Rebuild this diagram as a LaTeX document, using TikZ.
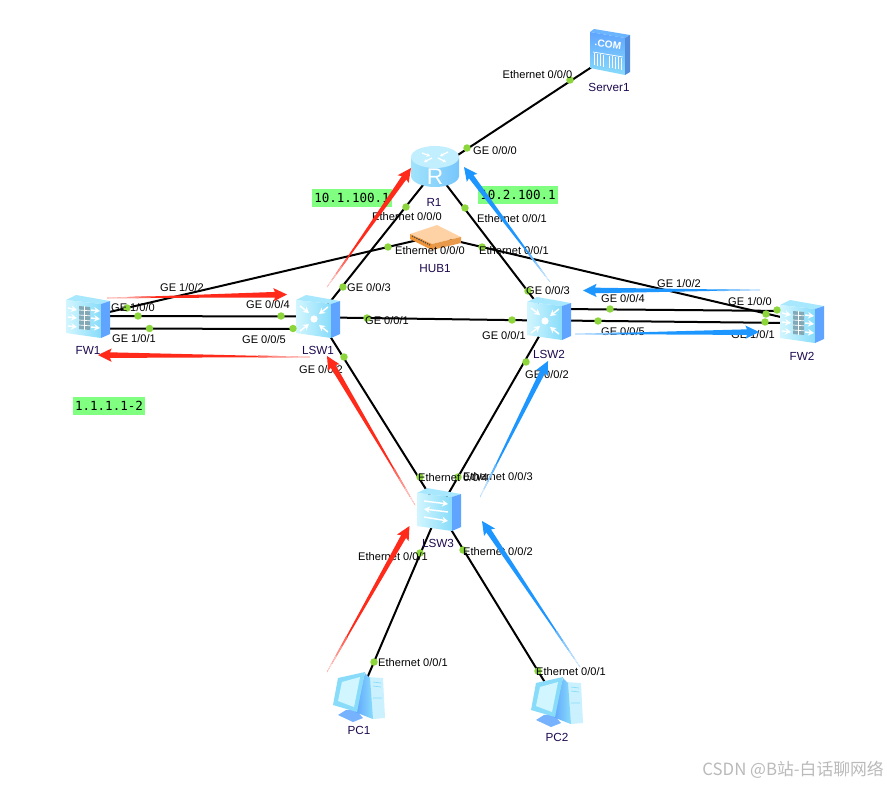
\documentclass[tikz,border=0pt]{standalone}
\usepackage{fontspec}
\setmainfont{Liberation Sans}
\newfontfamily\cjkfont{Noto Sans CJK SC}
\newfontfamily\monofont{DejaVu Sans Mono}
\usetikzlibrary{calc,arrows.meta}
\definecolor{flowred}{HTML}{FF2A1A}
\definecolor{flowblue}{HTML}{1E96FF}
\definecolor{dotgreen}{HTML}{8CD63C}
\definecolor{tagGreen}{HTML}{80FF80}
\definecolor{devname}{HTML}{1E0A50}
\definecolor{icoFrontA}{HTML}{D2F6FF}
\definecolor{icoFrontB}{HTML}{88DCFA}
\definecolor{icoTop}{HTML}{A8E8FF}
\definecolor{icoSide}{HTML}{5FA4FF}
\tikzset{
  link/.style={draw=black,line width=1.5pt},
  portdot/.style={circle,fill=dotgreen,inner sep=0pt,minimum size=5.6pt},
  portlab/.style={font=\fontsize{8.3pt}{9pt}\selectfont,text=black,inner sep=0pt},
  devlab/.style={font=\fontsize{8.8pt}{10pt}\selectfont,text=devname,inner sep=0pt},
  taglab/.style={fill=tagGreen,font=\fontsize{9.4pt}{10pt}\monofont,inner sep=0pt,minimum height=13.5pt},
  wht/.style={draw=white,line width=1.1pt,-{Stealth[length=4.5pt,width=5pt]}},
  boxicon/.pic={
    \path[fill=icoTop] (-22,-17)--(-12,-22)--(22,-16)--(13,-13)--cycle;
    \path[left color=icoFrontA,right color=icoFrontB] (-22,-17)--(13,-13)--(13,21)--(-22,16)--cycle;
    \path[fill=icoSide] (13,-13)--(22,-16)--(22,17)--(13,21)--cycle;
  },
  l3icon/.pic={
    \pic {boxicon};
    \fill[white] (-4,2) circle[radius=3.6];
    \draw[wht] (-18,-11)--(-9,-4);
    \draw[wht] (10,-10)--(1,-3);
    \draw[wht] (-18,14)--(-9,7);
    \draw[wht] (10,15)--(1,8);
  },
  l2icon/.pic={
    \pic {boxicon};
    \draw[wht] (-15,-9)--(9,-6);
    \draw[wht] (9,2)--(-15,-1);
    \draw[wht] (-15,7)--(9,11);
  },
  fwicon/.pic={
    \pic {boxicon};
    \fill[gray!55!icoFrontB] (-9,-11)--(2,-10)--(2,13)--(-9,12)--cycle;
    \foreach \yy in {-7,-2,3,8}{\draw[white,line width=.5pt] (-9,\yy)--(2,\yy+.8);}
    \draw[white,line width=.5pt] (-3.5,-11)--(-3.5,13);
    \draw[wht] (-20,-9)--(-11,-7);
    \draw[wht] (-20,0)--(-11,1);
    \draw[wht] (-20,9)--(-11,10);
    \draw[wht] (3,-7)--(12,-6);
    \draw[wht] (3,1)--(12,2);
    \draw[wht] (3,10)--(12,11);
  },
  routericon/.pic={
    \path[left color=icoFrontB!80!white,right color=icoFrontB!60!icoSide]
      (-24,-13) -- (-24,6) .. controls (-24,12) and (-13,17) .. (0,17)
      .. controls (13,17) and (24,12) .. (24,6) -- (24,-13) -- cycle;
    \path[fill=icoTop!70!white] (0,-13) ellipse[x radius=24,y radius=11];
    \draw[white,line width=.9pt,-{Stealth[length=2.6pt,width=3pt]}] (-13,-17)--(-5,-14);
    \draw[white,line width=.9pt,-{Stealth[length=2.6pt,width=3pt]}] (13,-18)--(5,-14);
    \draw[white,line width=.9pt,-{Stealth[length=2.6pt,width=3pt]}] (-3,-12)--(-11,-8);
    \draw[white,line width=.9pt,-{Stealth[length=2.6pt,width=3pt]}] (3,-12)--(11,-8);
    \node[text=white,font=\fontsize{17pt}{18pt}\selectfont,inner sep=0pt] (rmark) at (0,7) {R};
  },
  hubicon/.pic={
    \path[fill=orange!35!white] (-25,-2)--(2,-11)--(26,1)--(-3,8)--cycle;
    \path[fill=orange!70!brown!85!white] (-25,-2)--(-3,8)--(-3,14)--(-25,3)--cycle;
    \path[fill=orange!55!brown!80!white] (-3,8)--(26,1)--(26,7)--(-3,14)--cycle;
    \draw[black!70,line width=.9pt,dash pattern=on 1pt off .8pt] (-23,0)--(-5,9);
  },
  pcicon/.pic={
    \path[fill=icoTop!60!white] (8,-20)--(24,-19)--(26,21)--(14,22)--(-4,15)--cycle;
    \path[fill=icoSide!85!white] (-13,13)--(-4,12)--(4,21)--(-6,25)--(-21,18)--cycle;
    \path[left color=icoSide,right color=icoFrontB] (6,-24)--(11,-19)--(14,22)--(-4,15)--cycle;
    \path[fill=icoFrontB] (-26,8)--(-21,-19)--(6,-25)--(-2,15)--cycle;
    \path[fill=icoFrontA] (-21,4)--(-17,-15)--(1,-20)--(-5,10)--cycle;
    \draw[icoFrontB,line width=.5pt] (14,-15)--(22,-14) (14,-11)--(22,-10) (14,1)--(23,1);
  },
  servericon/.pic={
    \path[fill=icoSide!70!icoFrontB] (-20,-23)--(-16,-26)--(20,-20)--(15,-17)--cycle;
    \path[top color=icoSide,bottom color=icoFrontB] (-20,-23)--(15,-17)--(15,20)--(-20,13)--cycle;
    \path[fill=icoSide!85!black] (15,-17)--(20,-20)--(20,17)--(15,20)--cycle;
    \node[text=white,rotate=-8,font=\bfseries\fontsize{7.6pt}{8pt}\selectfont,inner sep=0pt] (commark) at (-2,-11) {.COM};
    \draw[white,line width=.5pt] (-17,-3)--(13,2);
    \foreach \xx in {-16,-13,-10,-7,-1,2,5,8,11}{\draw[white,line width=.7pt] (\xx,1+\xx*.16)--(\xx,13+\xx*.16);}
  },
}
\newcommand{\flowarrow}[3]{%
  \coordinate (flown) at ($(#2)!9pt!(#1)$);
  \coordinate (flowb) at ($(#2)!10.2pt!(#1)$);
  \fill[#3] (#1) -- ($(flown)!2.1pt!90:(#2)$) -- ($(flowb)!5pt!90:(#2)$) -- (#2)
     -- ($(flowb)!5pt!-90:(#2)$) -- ($(flown)!2.1pt!-90:(#2)$) -- cycle;
  \foreach \ff/\cc in {.26/70,.19/50,.12/30,.06/12}{
    \coordinate (flowp) at ($(#1)!\ff!(flown)$);
    \pgfmathsetlengthmacro\flowhw{(\ff+.01)*2.1pt+.25pt}
    \fill[#3!\cc!white] (#1) -- ($(flowp)!\flowhw!90:(#2)$) -- ($(flowp)!\flowhw!-90:(#2)$) -- cycle;
  }
}
\begin{document}
\begin{tikzpicture}[x=0.75pt,y=-0.75pt]
\useasboundingbox (0,0) rectangle (887,785);
\fill[white] (0,0) rectangle (887,785);
% device centres
\coordinate (Server1) at (610,55);
\coordinate (R1) at (435,170);
\coordinate (HUB1) at (435,236);
\coordinate (FW1) at (88,317);
\coordinate (FW2) at (802,322);
\coordinate (LSW1) at (318,317);
\coordinate (LSW2) at (549,319);
\coordinate (LSW3) at (439,510);
\coordinate (PC1) at (359,697);
\coordinate (PC2) at (557,702);
% ports of the parallel links
\coordinate (fw1a) at (100,316);
\coordinate (fw1b) at (100,328.5);
\coordinate (sw1a) at (310,316.5);
\coordinate (sw1b) at (310,329);
\coordinate (sw1c) at (330,317.5);
\coordinate (sw2c) at (540,320.5);
\coordinate (sw2a) at (560,309);
\coordinate (sw2b) at (560,320.5);
\coordinate (fw2a) at (790,311);
\coordinate (fw2b) at (790,323);
% links
\draw[link] (R1) -- (Server1);
\draw[link] (R1) -- (LSW1);
\draw[link] (R1) -- (LSW2);
\draw[link] (HUB1) -- (FW1);
\draw[link] (HUB1) -- (FW2);
\draw[link] (fw1a) -- (sw1a);
\draw[link] (fw1b) -- (sw1b);
\draw[link] (sw1c) -- (sw2c);
\draw[link] (sw2a) -- (fw2a);
\draw[link] (sw2b) -- (fw2b);
\draw[link] (LSW1) -- (LSW3);
\draw[link] (LSW2) -- (LSW3);
\draw[link] (LSW3) -- (PC1);
\draw[link] (LSW3) -- (PC2);
% icons
\pic at (R1) {routericon};
\pic at (HUB1) {hubicon};
\pic at (Server1) {servericon};
\pic at (FW1) {fwicon};
\begin{scope}[shift={(FW2)}]\pic {fwicon};\end{scope}
\pic at (LSW1) {l3icon};
\pic at (LSW2) {l3icon};
\pic at (LSW3) {l2icon};
\pic at (PC1) {pcicon};
\pic at (PC2) {pcicon};
% port dots
\node[portdot] (d01) at (570,80) {};
\node[portdot] (d02) at (467,148) {};
\node[portdot] (d03) at (406,207) {};
\node[portdot] (d04) at (465,208) {};
\node[portdot] (d05) at (388,247) {};
\node[portdot] (d06) at (482,247) {};
\node[portdot] (d07) at (343,287) {};
\node[portdot] (d08) at (528,291) {};
\node[portdot] (d09) at (127,308) {};
\node[portdot] (d10) at (138,316) {};
\node[portdot] (d11) at (149.5,328.5) {};
\node[portdot] (d12) at (281,316) {};
\node[portdot] (d13) at (293,328.5) {};
\node[portdot] (d14) at (367,318) {};
\node[portdot] (d15) at (512,320) {};
\node[portdot] (d16) at (610,309) {};
\node[portdot] (d17) at (598,321) {};
\node[portdot] (d18) at (777,310) {};
\node[portdot] (d19) at (766,314) {};
\node[portdot] (d20) at (765,322) {};
\node[portdot] (d21) at (344,357) {};
\node[portdot] (d22) at (526,362) {};
\node[portdot] (d23) at (420,477) {};
\node[portdot] (d24) at (458,477) {};
\node[portdot] (d25) at (420,553) {};
\node[portdot] (d26) at (463,550) {};
\node[portdot] (d27) at (374,662) {};
\node[portdot] (d28) at (538,671) {};
% tags
\node[taglab,minimum width=60pt] (tagA) at (352,198) {10.1.100.1};
\node[taglab,minimum width=60pt] (tagB) at (518,195) {10.2.100.1};
\node[taglab,minimum width=54pt] (tagC) at (109,406) {1.1.1.1-2};
% port labels
\node[portlab] (p01) at (537.5,74.5) {Ethernet 0/0/0};
\node[portlab] (p02) at (495,151) {GE 0/0/0};
\node[portlab] (p03) at (407,217) {Ethernet 0/0/0};
\node[portlab] (p04) at (512,219) {Ethernet 0/0/1};
\node[portlab] (p05) at (430,251) {Ethernet 0/0/0};
\node[portlab] (p06) at (514,251) {Ethernet 0/0/1};
\node[portlab] (p07) at (182,288) {GE 1/0/2};
\node[portlab] (p08) at (369,288) {GE 0/0/3};
\node[portlab] (p09) at (548,291) {GE 0/0/3};
\node[portlab] (p10) at (679,284) {GE 1/0/2};
\node[portlab] (p11) at (623,299) {GE 0/0/4};
\node[portlab] (p12) at (750,302) {GE 1/0/0};
\node[portlab] (p13) at (133,308) {GE 1/0/0};
\node[portlab] (p14) at (268,305) {GE 0/0/4};
\node[portlab] (p15) at (387,321) {GE 0/0/1};
\node[portlab] (p16) at (504,336) {GE 0/0/1};
\node[portlab] (p17) at (134,339) {GE 1/0/1};
\node[portlab] (p18) at (264,340) {GE 0/0/5};
\node[portlab] (p19) at (623,332) {GE 0/0/5};
\node[portlab] (p20) at (753,335) {GE 1/0/1};
\node[portlab] (p21) at (321,370) {GE 0/0/2};
\node[portlab] (p22) at (547,375) {GE 0/0/2};
\node[portlab] (p23) at (453,478) {Ethernet 0/0/4};
\node[portlab] (p24) at (498,477) {Ethernet 0/0/3};
\node[portlab] (p25) at (393,557) {Ethernet 0/0/1};
\node[portlab] (p26) at (498,552) {Ethernet 0/0/2};
\node[portlab] (p27) at (413,663) {Ethernet 0/0/1};
\node[portlab] (p28) at (571,672) {Ethernet 0/0/1};
% device labels
\node[devlab] (nServer) at (609,87) {Server1};
\node[devlab] (nR) at (434,202) {R1};
\node[devlab] (nHub) at (435,269) {HUB1};
\node[devlab] (nFW1) at (88,350) {FW1};
\node[devlab] (nFW2) at (802,356) {FW2};
\node[devlab] (nS1) at (318,350) {LSW1};
\node[devlab] (nS2) at (549,354) {LSW2};
\node[devlab] (nS3) at (438,543) {LSW3};
\node[devlab] (nPC1) at (359,730) {PC1};
\node[devlab] (nPC2) at (557,737) {PC2};
% traffic arrows
\coordinate (ra1) at (327,287); \coordinate (rb1) at (411,168);
\coordinate (ra2) at (107,298); \coordinate (rb2) at (287,294.5);
\coordinate (ra3) at (310,357); \coordinate (rb3) at (98,355);
\coordinate (ra4) at (415,505); \coordinate (rb4) at (327,356);
\coordinate (ra5) at (327,672); \coordinate (rb5) at (409.5,526);
\coordinate (ba1) at (550,282); \coordinate (bb1) at (464,167);
\coordinate (ba2) at (760,290); \coordinate (bb2) at (583,290.5);
\coordinate (ba3) at (575,334); \coordinate (bb3) at (759,332);
\coordinate (ba4) at (480,497); \coordinate (bb4) at (548,361);
\coordinate (ba5) at (580,667); \coordinate (bb5) at (482,521);
\flowarrow{ra1}{rb1}{flowred}
\flowarrow{ra2}{rb2}{flowred}
\flowarrow{ra3}{rb3}{flowred}
\flowarrow{ra4}{rb4}{flowred}
\flowarrow{ra5}{rb5}{flowred}
\flowarrow{ba1}{bb1}{flowblue}
\flowarrow{ba2}{bb2}{flowblue}
\flowarrow{ba3}{bb3}{flowblue}
\flowarrow{ba4}{bb4}{flowblue}
\flowarrow{ba5}{bb5}{flowblue}
% watermark
\node[anchor=east,text=black!27,inner sep=0pt,font=\fontsize{12.6pt}{13pt}\cjkfont] (wm) at (884,770) {CSDN @B站-白话聊网络};
\end{tikzpicture}
\end{document}
